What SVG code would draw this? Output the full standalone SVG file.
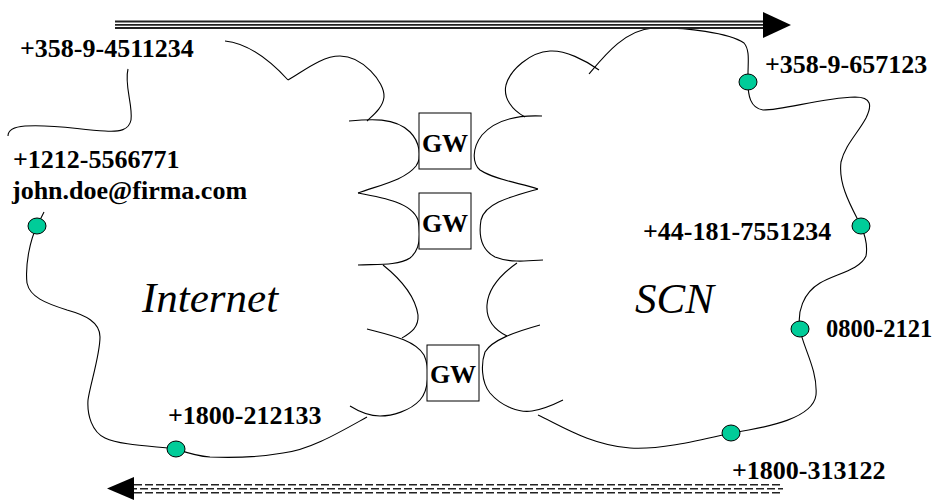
<svg xmlns="http://www.w3.org/2000/svg" width="941" height="501" viewBox="0 0 941 501">
  <defs>
    <style>
      .c { fill: none; stroke: #000; stroke-width: 1.1; }
      .box { fill: #fff; stroke: #000; stroke-width: 1; }
      .dot { fill: #00CC99; stroke: #000; stroke-width: 1; }
      .lbl { font-family: "Liberation Serif", "Times New Roman", serif; font-weight: bold; font-size: 26px; fill: #000; }
      .big { font-family: "Liberation Serif", "Times New Roman", serif; font-style: italic; font-size: 43px; fill: #000; }
      .tl { stroke: #222; stroke-width: 1.8; fill: none; }
      .dl { stroke: #222; stroke-width: 1.6; fill: none; stroke-dasharray: 8 3; }
    </style>
  </defs>
  <rect width="941" height="501" fill="#fff"/>

  <g id="internet">
    <path class="c" d="M 225,41 C 245,43 265,55 288,80"/>
    <path class="c" d="M 288,80 C 305,70 322,56 340,56 C 362,56 385,82 384,97 C 383,108 372,116 367,121"/>
    <path class="c" d="M 128,69 C 124,85 133,105 131,120 C 129,130 120,132 105,131 C 80,130 55,124 25,126 C 12,127 8,131 8,136"/>
    <path class="c" d="M 349,121 C 370,119 395,117 410,132 C 420,142 422,158 416,166 C 405,180 380,185 358,193"/>
    <path class="c" d="M 358,193 C 385,198 412,203 418,220 C 421,235 420,250 410,258 C 398,266 375,264 358,265"/>
    <path class="c" d="M 383,265 C 398,277 415,295 418,315 C 419,328 410,333 402,338"/>
    <path class="c" d="M 367,329 C 390,335 415,340 424,355 C 430,368 429,390 420,400 C 410,411 392,416 380,416 C 368,416 358,411 350,406"/>
    <path class="c" d="M 367,417 C 340,432 310,450 283,453 C 260,457 235,458 210,457 C 195,456 185,452 176,449 C 150,446 120,445 105,438 C 92,432 87,415 88,400 C 90,385 100,355 100,337 C 100,322 85,315 67,310 C 45,303 30,297 27,283 C 25,265 30,240 37,226 L 44,212"/>
    <text class="big" x="142" y="312">Internet</text>
  </g>

  <g id="scn">
    <path class="c" d="M 599,70 C 585,60 565,50 550,51 C 530,52 510,70 506,85 C 503,98 512,110 525,117"/>
    <path class="c" d="M 589,74 C 605,55 625,30 653,28 C 685,27 730,33 744,43 C 750,50 748,62 748,74"/>
    <path class="c" d="M 748,82 C 748,95 750,108 763,110 C 785,110 820,98 855,97 C 872,97 872,106 866,118 C 858,133 845,145 841,162 C 838,185 852,208 861,226 C 865,235 868,245 866,256 C 860,270 835,274 820,283 C 803,293 797,312 800,329 C 802,345 818,370 816,395 C 813,418 770,427 731,433 C 700,440 660,450 630,448 C 590,445 560,425 538,415"/>
    <path class="c" d="M 542,116 C 520,115 497,118 482,135 C 472,148 472,163 480,170 C 495,180 520,183 538,189"/>
    <path class="c" d="M 538,189 C 510,197 485,203 481,220 C 478,238 482,250 495,257 C 510,263 528,261 543,260"/>
    <path class="c" d="M 517,263 C 500,275 488,290 487,305 C 486,320 495,330 507,336"/>
    <path class="c" d="M 540,325 C 515,332 492,340 485,352 C 481,363 481,382 490,393 C 502,407 520,413 532,411 C 545,409 555,404 563,400"/>
    <text class="big" x="635" y="313">SCN</text>
  </g>

  <g id="gw1">
    <rect class="box" x="419" y="113" width="52" height="56"/>
    <text class="lbl" x="445" y="152" text-anchor="middle">GW</text>
  </g>
  <g id="gw2">
    <rect class="box" x="419" y="193" width="52" height="56"/>
    <text class="lbl" x="445" y="232" text-anchor="middle">GW</text>
  </g>
  <g id="gw3">
    <rect class="box" x="427" y="345" width="52" height="56"/>
    <text class="lbl" x="453" y="383" text-anchor="middle">GW</text>
  </g>

  <g id="ep-4511234">
    <text class="lbl" x="20" y="57">+358-9-4511234</text>
  </g>
  <g id="ep-john">
    <text class="lbl" x="13" y="168">+1212-5566771</text>
    <text class="lbl" x="12" y="199">john.doe@firma.com</text>
    <ellipse class="dot" cx="37" cy="226" rx="9" ry="8"/>
  </g>
  <g id="ep-212133">
    <text class="lbl" x="168" y="424">+1800-212133</text>
    <ellipse class="dot" cx="176" cy="449" rx="9" ry="8"/>
  </g>
  <g id="ep-657123">
    <ellipse class="dot" cx="748" cy="82" rx="9" ry="8"/>
    <text class="lbl" x="765" y="73">+358-9-657123</text>
  </g>
  <g id="ep-7551234">
    <ellipse class="dot" cx="861" cy="226" rx="9" ry="8"/>
    <text class="lbl" x="643" y="240">+44-181-7551234</text>
  </g>
  <g id="ep-0800">
    <ellipse class="dot" cx="800" cy="329" rx="9" ry="8"/>
    <text class="lbl" x="826" y="337" style="font-size:24.5px">0800-2121</text>
  </g>
  <g id="ep-313122">
    <ellipse class="dot" cx="731" cy="433" rx="9" ry="8"/>
    <text class="lbl" x="732" y="479">+1800-313122</text>
  </g>

  <g id="connectors">
    <g id="arrow-top">
      <line class="tl" x1="115" y1="21.5" x2="765" y2="21.5"/>
      <line class="tl" x1="115" y1="24.8" x2="765" y2="24.8"/>
      <line class="tl" x1="115" y1="28" x2="765" y2="28"/>
      <polygon points="763,12 791,25 763,38" fill="#000"/>
    </g>
    <g id="arrow-bottom">
      <line class="dl" x1="134" y1="484.7" x2="783" y2="484.7"/>
      <line class="dl" x1="134" y1="488.7" x2="783" y2="488.7" stroke-dashoffset="5"/>
      <line class="dl" x1="134" y1="492.7" x2="783" y2="492.7"/>
      <polygon points="134,477 107,488.5 134,500" fill="#000"/>
    </g>
  </g>
</svg>
